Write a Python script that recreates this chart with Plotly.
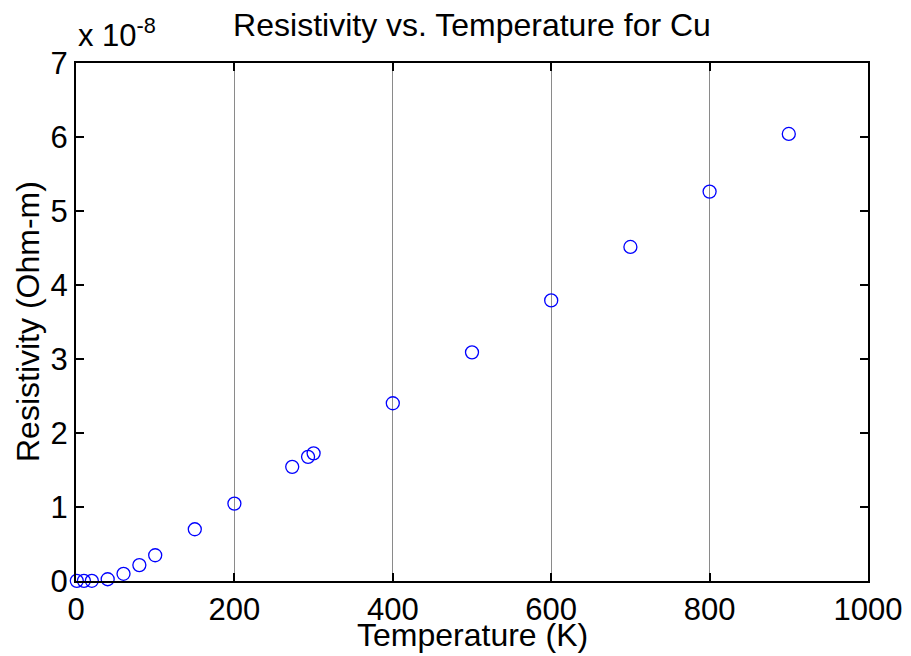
import plotly.graph_objects as go

temperature_K = [1, 10, 20, 40, 60, 80, 100, 150, 200, 273, 293, 300, 400, 500, 600, 700, 800, 900]
resistivity_e8 = [0.002, 0.00202, 0.0028, 0.0239, 0.0971, 0.215, 0.348, 0.699, 1.046, 1.543, 1.678,
                  1.725, 2.402, 3.090, 3.792, 4.514, 5.262, 6.041]
x_ticks = [0, 200, 400, 600, 800, 1000]
y_ticks = [0, 1, 2, 3, 4, 5, 6, 7]

FONT = "Liberation Sans, Arial, sans-serif"
FS_TICK = 31
FS_TITLE = 32

fig = go.Figure()
fig.add_trace(go.Scatter(
    x=temperature_K, y=resistivity_e8, mode="markers",
    marker=dict(symbol="circle-open", size=13, color="#0000ff", line=dict(width=1.3, color="#0000ff")),
    showlegend=False, cliponaxis=False,
))

fig.update_layout(
    width=911, height=656,
    margin=dict(l=76, r=43, t=63, b=75, autoexpand=False),
    paper_bgcolor="white", plot_bgcolor="white",
    font=dict(family=FONT, size=FS_TICK, color="black"),
    title=dict(text="Resistivity vs. Temperature for Cu", x=0.5, xref="paper", xanchor="center",
               y=1 - 25 / 656, yref="container", yanchor="middle",
               font=dict(family=FONT, size=FS_TITLE, color="black")),
    xaxis=dict(range=[0, 1000], tickvals=x_ticks, ticktext=[str(v) for v in x_ticks],
               ticks="inside", ticklen=8, tickwidth=2, tickcolor="black",
               showline=True, linewidth=2, linecolor="black", mirror="ticks",
               showgrid=True, gridcolor="#8a8a8a", gridwidth=1, zeroline=False,
               automargin=False, tickfont=dict(size=FS_TICK)),
    yaxis=dict(range=[0, 7], tickvals=y_ticks, ticktext=[str(v) for v in y_ticks],
               ticks="inside", ticklen=8, tickwidth=2, tickcolor="black",
               showline=True, linewidth=2, linecolor="black", mirror="ticks",
               showgrid=False, zeroline=False, automargin=False,
               tickfont=dict(size=FS_TICK)),
    annotations=[
        dict(text="x 10<sup>-8</sup>", x=0, y=1, xref="paper", yref="paper",
             xanchor="left", yanchor="bottom", yshift=8, showarrow=False,
             font=dict(family=FONT, size=FS_TICK, color="black")),
        dict(text="Temperature (K)", x=0.5, y=0, xref="paper", yref="paper",
             xanchor="center", yanchor="middle", yshift=-54, showarrow=False,
             font=dict(family=FONT, size=FS_TITLE, color="black")),
        dict(text="Resistivity (Ohm-m)", x=0, y=0.5, xref="paper", yref="paper",
             xanchor="center", yanchor="middle", xshift=-48, textangle=-90, showarrow=False,
             font=dict(family=FONT, size=FS_TITLE, color="black")),
    ],
)

fig.write_html("out.html", config={"displayModeBar": False},
               post_script="document.body.style.margin='0';")
